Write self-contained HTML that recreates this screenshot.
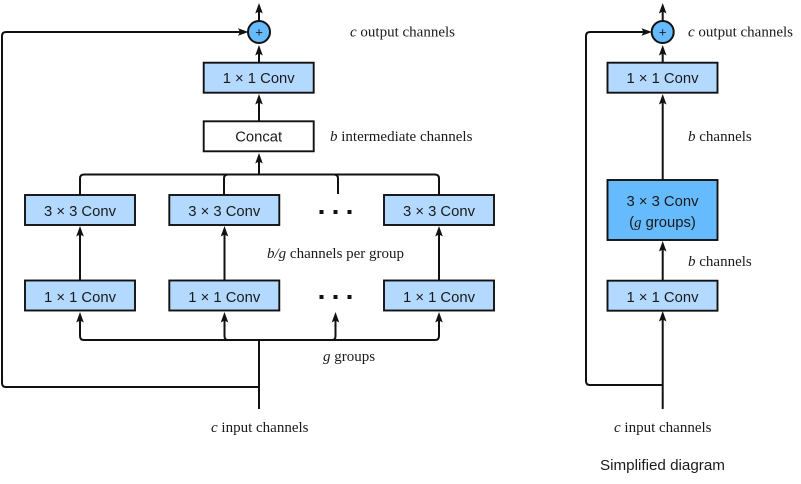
<!DOCTYPE html>
<html lang="en">
<head>
<meta charset="utf-8">
<title>Diagram</title>
<style>
html,body{margin:0;padding:0;background:#fff;}
svg{display:block;}
.sans{font-family:"Liberation Sans",sans-serif;font-size:14.8px;fill:#1a1a1a;text-anchor:middle;}
.serif{font-family:"Liberation Serif",serif;font-size:15px;fill:#1a1a1a;}
.l{fill:none;stroke:#111;stroke-width:2;}
.b{fill:#b3d9ff;stroke:#111;stroke-width:1.9;}
.d{fill:#111;}
</style>
</head>
<body>
<svg width="801" height="484" viewBox="0 0 801 484" xmlns="http://www.w3.org/2000/svg">
<defs>
<g id="up"><path d="M0 0L3.800 10.500L0 8.500L-3.800 10.500Z" fill="#111"/></g>
<g id="right"><path d="M0 0L-10.500 -3.800L-8.500 0L-10.500 3.800Z" fill="#111"/></g>
</defs>

<!-- left diagram lines -->
<path class="l" d="M259 409V340"/>
<path class="l" d="M259 387H6Q2 387 2 383V36Q2 32 6 32H242"/>
<use href="#right" x="248.500" y="32"/>
<path class="l" d="M84 340H435Q439 340 439 336V318M84 340Q80 340 80 336V318"/>
<path class="l" d="M224.500 318V336Q224.500 340 228 340M335.500 318V336Q335.500 340 332 340"/>
<use href="#up" x="80" y="312"/><use href="#up" x="224.500" y="312"/><use href="#up" x="335.500" y="312"/><use href="#up" x="439" y="312"/>
<path class="l" d="M80 280V232"/><path class="l" d="M224.500 280V232"/><path class="l" d="M439 280V232"/>
<use href="#up" x="80" y="226"/><use href="#up" x="224.500" y="226"/><use href="#up" x="439" y="226"/>
<path class="l" d="M80 195V178.500Q80 174.500 84 174.500H435Q439 174.500 439 178.500V195"/>
<path class="l" d="M224 195V178.500Q224 174.500 228 174.500M338 194V178.500Q338 174.500 334 174.500"/>
<path class="l" d="M259 174.500V159"/><use href="#up" x="259" y="153"/>
<path class="l" d="M259 121V100"/><use href="#up" x="259" y="94"/>
<path class="l" d="M259 63V51"/><use href="#up" x="259" y="45"/>
<path class="l" d="M259 21V10"/><use href="#up" x="259" y="3"/>

<!-- left nodes -->
<circle cx="259" cy="32" r="11" fill="#66bbff" stroke="#111" stroke-width="2"/>
<text class="sans" x="259" y="36.500" style="font-size:13px">+</text>
<rect class="b" x="203.700" y="62.700" width="110" height="30"/>
<text class="sans" x="258.700" y="83">1 × 1 Conv</text>
<rect x="203.700" y="121.300" width="110" height="30" fill="#fff" stroke="#111" stroke-width="1.900"/>
<text class="sans" x="258.700" y="141.500">Concat</text>

<rect class="b" x="25" y="195" width="110" height="30"/><text class="sans" x="80" y="216">3 × 3 Conv</text>
<rect class="b" x="169.300" y="195" width="110" height="30"/><text class="sans" x="224.300" y="216">3 × 3 Conv</text>
<rect class="b" x="384" y="195" width="110" height="30"/><text class="sans" x="439" y="216">3 × 3 Conv</text>
<rect class="b" x="25" y="280.500" width="110" height="30"/><text class="sans" x="80" y="302">1 × 1 Conv</text>
<rect class="b" x="169.300" y="280.500" width="110" height="30"/><text class="sans" x="224.300" y="302">1 × 1 Conv</text>
<rect class="b" x="384" y="280.500" width="110" height="30"/><text class="sans" x="439" y="302">1 × 1 Conv</text>

<rect class="d" x="319.500" y="210" width="4" height="4"/><rect class="d" x="333.500" y="210" width="4" height="4"/><rect class="d" x="347.500" y="210" width="4" height="4"/>
<rect class="d" x="319.500" y="295" width="4" height="4"/><rect class="d" x="333.500" y="295" width="4" height="4"/><rect class="d" x="347.500" y="295" width="4" height="4"/>

<!-- left labels -->
<text class="serif" x="350" y="36.500"><tspan font-style="italic">c</tspan> output channels</text>
<text class="serif" x="330" y="141"><tspan font-style="italic">b</tspan> intermediate channels</text>
<text class="serif" x="267" y="258"><tspan font-style="italic">b/g</tspan> channels per group</text>
<text class="serif" x="323" y="361"><tspan font-style="italic">g</tspan> groups</text>
<text class="serif" x="211" y="432"><tspan font-style="italic">c</tspan> input channels</text>

<!-- right diagram -->
<path class="l" d="M662.700 409V317"/><use href="#up" x="662.700" y="311"/>
<path class="l" d="M662.700 385H590Q586 385 586 381V36Q586 32 590 32H645"/>
<use href="#right" x="652" y="32"/>
<path class="l" d="M662.700 280V247"/><use href="#up" x="662.700" y="241"/>
<path class="l" d="M662.700 180V100"/><use href="#up" x="662.700" y="94"/>
<path class="l" d="M662.700 63V51"/><use href="#up" x="662.700" y="45"/>
<path class="l" d="M662.700 21V10"/><use href="#up" x="662.700" y="3"/>

<circle cx="662.700" cy="32" r="11" fill="#66bbff" stroke="#111" stroke-width="2"/>
<text class="sans" x="662.700" y="36.500" style="font-size:13px">+</text>
<rect class="b" x="607.500" y="62.700" width="110" height="30"/>
<text class="sans" x="662.500" y="83">1 × 1 Conv</text>
<rect x="607.500" y="180" width="110" height="60" fill="#66bbff" stroke="#111" stroke-width="1.900"/>
<text class="sans" x="662.500" y="206">3 × 3 Conv</text>
<text class="sans" x="662.500" y="227">(<tspan font-family="Liberation Serif" font-style="italic">g</tspan> groups)</text>
<rect class="b" x="607.500" y="280.700" width="110" height="30"/>
<text class="sans" x="662.500" y="302">1 × 1 Conv</text>

<text class="serif" x="688" y="36.500"><tspan font-style="italic">c</tspan> output channels</text>
<text class="serif" x="688" y="141"><tspan font-style="italic">b</tspan> channels</text>
<text class="serif" x="688" y="266"><tspan font-style="italic">b</tspan> channels</text>
<text class="serif" x="614" y="432"><tspan font-style="italic">c</tspan> input channels</text>
<text class="sans" x="662.500" y="470" style="font-size:15.200px">Simplified diagram</text>
</svg>
</body>
</html>
